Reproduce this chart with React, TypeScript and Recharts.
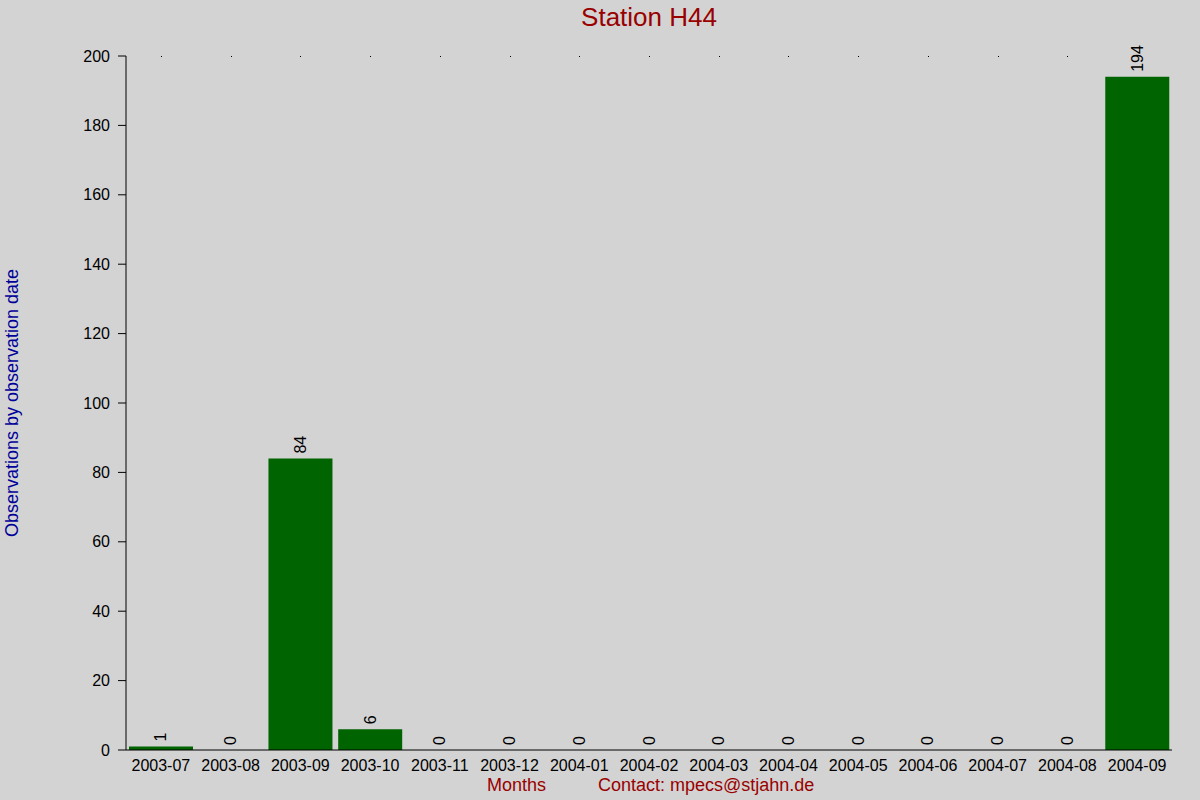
import { Bar, BarChart, LabelList, XAxis, YAxis } from "recharts";

const months = [
  "2003-07", "2003-08", "2003-09", "2003-10", "2003-11", "2003-12", "2004-01", "2004-02",
  "2004-03", "2004-04", "2004-05", "2004-06", "2004-07", "2004-08", "2004-09",
];
const observations = [1, 0, 84, 6, 0, 0, 0, 0, 0, 0, 0, 0, 0, 0, 194];
const yTicks = [0, 20, 40, 60, 80, 100, 120, 140, 160, 180, 200];

const data = months.map((month, i) => ({ month, count: observations[i] }));

const FONT = '"Liberation Sans", Arial, sans-serif';
const RED = "#990000";
const CHART_H = 800;
const MARGIN = { top: 56, right: 28, bottom: 20, left: 26 };
const X_AXIS_H = 30;
const PLOT_H = CHART_H - MARGIN.top - MARGIN.bottom - X_AXIS_H;

function RotatedValue({ x, y, value }: { x: number; y: number; value: number }) {
  return (
    <text
      x={x}
      y={y}
      transform={`rotate(-90 ${x} ${y})`}
      textAnchor="start"
      dominantBaseline="central"
      fontSize={16}
      fontFamily={FONT}
      fill="#000"
    >
      {value}
    </text>
  );
}

function ValueLabel(props: any) {
  const { x, y, width, value } = props;
  return <RotatedValue x={x + width / 2} y={y - 5} value={value} />;
}

// month label, plus the zero-value labels and the top dots that Recharts skips for empty bars
function MonthTick(props: any) {
  const { x, y, payload, index } = props;
  const value = observations[index];
  return (
    <g>
      <rect x={Math.round(x)} y={y - PLOT_H} width={1} height={1} fill="#000" />
      {value === 0 && <RotatedValue x={x} y={y - 5} value={0} />}
      <text
        x={x}
        y={y + 15}
        textAnchor="middle"
        dominantBaseline="central"
        fontSize={16}
        fontFamily={FONT}
        fill="#000"
      >
        {payload.value}
      </text>
    </g>
  );
}

export default function App() {
  return (
    <div
      style={{
        position: "absolute",
        left: 0,
        top: 0,
        width: 1200,
        height: 800,
        background: "#d3d3d3",
        fontFamily: FONT,
      }}
    >
      <BarChart width={1200} height={CHART_H} data={data} margin={MARGIN} barCategoryGap={3}>
        <XAxis
          dataKey="month"
          height={X_AXIS_H}
          tickLine={false}
          tickSize={0}
          tickMargin={0}
          stroke="#000"
          tick={<MonthTick />}
          interval={0}
        />
        <YAxis
          width={100}
          domain={[0, 200]}
          ticks={yTicks}
          tickSize={8}
          tickMargin={8}
          stroke="#000"
          tick={{ fill: "#000", fontSize: 16, fontFamily: FONT }}
        />
        <Bar dataKey="count" fill="#006400" isAnimationActive={false}>
          <LabelList dataKey="count" content={<ValueLabel />} />
        </Bar>
      </BarChart>
      <div
        style={{
          position: "absolute",
          left: 0,
          width: 1298,
          top: 2,
          textAlign: "center",
          fontSize: 26,
          color: RED,
        }}
      >
        Station H44
      </div>
      <div
        style={{
          position: "absolute",
          left: 12,
          top: 403,
          transform: "translate(-50%, -50%) rotate(-90deg)",
          whiteSpace: "nowrap",
          fontSize: 18,
          color: "#000099",
        }}
      >
        Observations by observation date
      </div>
      <div style={{ position: "absolute", left: 487, top: 775, fontSize: 18, color: RED }}>
        Months
      </div>
      <div style={{ position: "absolute", left: 598, top: 775, fontSize: 18, color: RED }}>
        Contact: mpecs@stjahn.de
      </div>
    </div>
  );
}
